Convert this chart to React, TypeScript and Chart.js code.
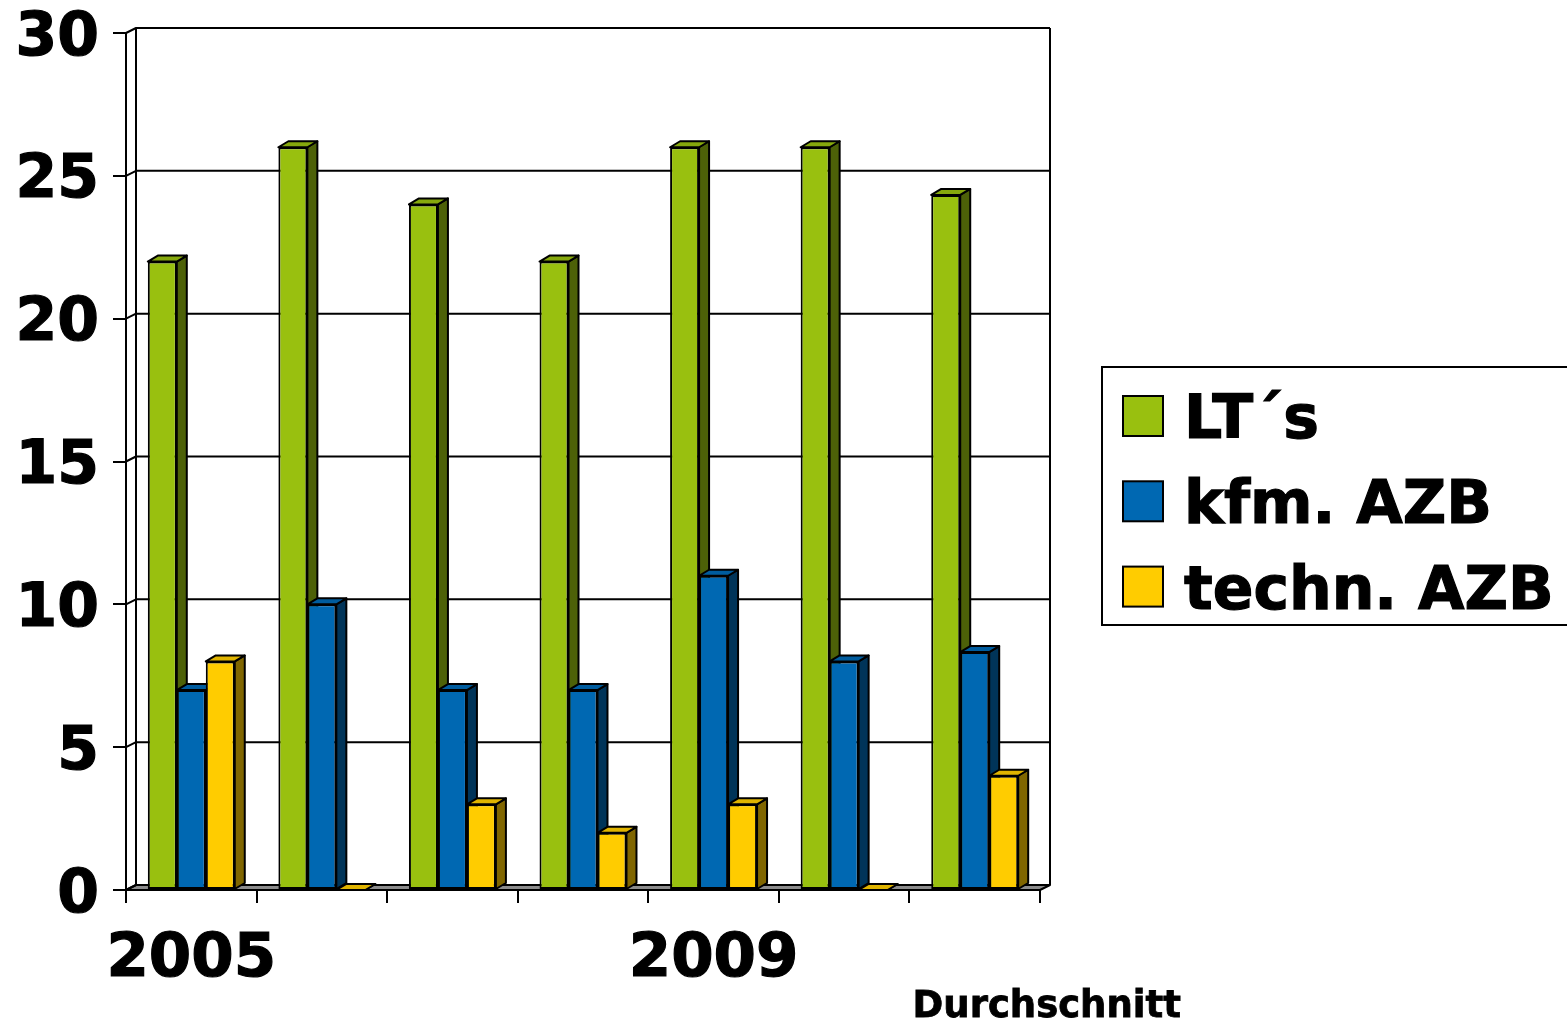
import React, { useEffect, useRef } from "react";
import { Chart, registerables } from "chart.js";

Chart.register(...registerables);

const categories = ["2005", "2006", "2007", "2008", "2009", "2010", "Durchschnitt"];
const visibleXLabels = ["2005", "2009"];
const seriesNames = ["LT´s", "kfm. AZB", "techn. AZB"];
const ltValues = [22, 26, 24, 22, 26, 26, 24.33];
const kfmValues = [7, 10, 7, 7, 11, 8, 8.33];
const technValues = [8, 0, 3, 2, 3, 0, 4];
const yMin = 0;
const yMax = 30;
const yStep = 5;

const FRONT = ["#99C00F", "#0068B2", "#FFCC00"];
const TOP = ["#86A80D", "#005C9E", "#E0B400"];
const SIDE = ["#4D6108", "#003459", "#806600"];

const DX = 10;
const DY = -6;
const WDX = 10;
const WDY = -5;
const FONT = '"DejaVu Sans", Verdana, sans-serif';

function drawFaces(chart: any, i: number) {
  const { ctx } = chart;
  const meta = chart.getDatasetMeta(i);
  ctx.save();
  ctx.lineWidth = 2;
  ctx.strokeStyle = "#000";
  ctx.lineJoin = "round";
  meta.data.forEach((bar: any) => {
    const { x, y, base, width } = bar.getProps(["x", "y", "base", "width"], true);
    const l = x - width / 2;
    const r = x + width / 2;
    ctx.beginPath();
    ctx.moveTo(r, y);
    ctx.lineTo(r + DX, y + DY);
    ctx.lineTo(r + DX, base + DY);
    ctx.lineTo(r, base);
    ctx.closePath();
    ctx.fillStyle = SIDE[i];
    ctx.fill();
    ctx.stroke();
    ctx.beginPath();
    ctx.moveTo(l, y);
    ctx.lineTo(l + DX, y + DY);
    ctx.lineTo(r + DX, y + DY);
    ctx.lineTo(r, y);
    ctx.closePath();
    ctx.fillStyle = TOP[i];
    ctx.fill();
    ctx.stroke();
  });
  ctx.restore();
}

const threeD = {
  id: "threeD",
  beforeDatasetsDraw(chart: any) {
    const { ctx, chartArea } = chart;
    const ys = chart.scales.y;
    const { left, right, top, bottom } = chartArea;
    ctx.save();
    ctx.lineWidth = 2;
    ctx.strokeStyle = "#000";
    ctx.lineJoin = "round";
    ctx.beginPath();
    ctx.moveTo(left, bottom);
    ctx.lineTo(left + WDX, bottom + WDY);
    ctx.lineTo(right + WDX, bottom + WDY);
    ctx.lineTo(right, bottom);
    ctx.closePath();
    ctx.fillStyle = "#8C8C8C";
    ctx.fill();
    ctx.stroke();
    for (let v = yMin; v <= yMax; v += yStep) {
      const y = ys.getPixelForValue(v);
      ctx.beginPath();
      ctx.moveTo(left, y);
      ctx.lineTo(left + WDX, y + WDY);
      ctx.lineTo(right + WDX, y + WDY);
      ctx.stroke();
    }
    ctx.beginPath();
    ctx.moveTo(left + WDX, top + WDY);
    ctx.lineTo(left + WDX, bottom + WDY);
    ctx.moveTo(right + WDX, top + WDY);
    ctx.lineTo(right + WDX, bottom + WDY);
    ctx.stroke();
    ctx.restore();
  },
  beforeDatasetDraw() {
    return false;
  },
  afterDatasetsDraw(chart: any) {
    const n = chart.data.datasets.length;
    for (let i = 0; i < n; i++) {
      const meta = chart.getDatasetMeta(i);
      meta.controller.draw();
      drawFaces(chart, i);
    }
  },
  afterDraw(chart: any) {
    const { ctx } = chart;
    const xs = chart.scales.x;
    ctx.save();
    const last = categories.length - 1;
    ctx.font = `bold 37px ${FONT}`;
    ctx.fillStyle = "#000";
    ctx.strokeStyle = "#000";
    ctx.lineWidth = 0.8;
    ctx.textAlign = "center";
    ctx.textBaseline = "alphabetic";
    ctx.strokeText(categories[last], xs.getPixelForValue(last) + 72, 1017);
    ctx.fillText(categories[last], xs.getPixelForValue(last) + 72, 1017);
    ctx.lineWidth = 2;
    ctx.fillStyle = "#fff";
    ctx.fillRect(1102, 367, 480, 258);
    ctx.strokeRect(1102, 367, 480, 258);
    ctx.font = `bold 60px ${FONT}`;
    ctx.textAlign = "left";
    chart.data.datasets.forEach((ds: any, k: number) => {
      const sy = 396 + k * 85.3;
      ctx.lineWidth = 2;
      ctx.fillStyle = FRONT[k];
      ctx.fillRect(1123, sy, 40, 40);
      ctx.strokeRect(1123, sy, 40, 40);
      ctx.fillStyle = "#000";
      ctx.lineWidth = 1.2;
      ctx.strokeText(ds.label, 1184, sy + 42);
      ctx.fillText(ds.label, 1184, sy + 42);
    });
    ctx.restore();
  },
};

export default function App() {
  const ref = useRef<HTMLCanvasElement>(null);
  useEffect(() => {
    if (!ref.current) return;
    const values = [ltValues, kfmValues, technValues];
    const chart = new Chart(ref.current, {
      type: "bar",
      data: {
        labels: categories,
        datasets: values.map((vals, k) => ({
          label: seriesNames[k],
          data: vals,
          backgroundColor: FRONT[k],
          borderColor: "#000",
          borderWidth: 2,
          borderSkipped: false,
          categoryPercentage: 0.666,
          barPercentage: 1,
        })),
      },
      options: {
        responsive: false,
        animation: false,
        events: [],
        layout: { padding: { top: 33, right: 527, left: 0, bottom: 0 } },
        plugins: { legend: { display: false }, tooltip: { enabled: false } },
        scales: {
          x: {
            grid: {
              offset: true,
              drawOnChartArea: false,
              drawTicks: true,
              tickLength: 13,
              color: "#000",
              lineWidth: 2,
            },
            border: { display: true, color: "#000", width: 2 },
            ticks: {
              autoSkip: false,
              maxRotation: 0,
              minRotation: 0,
              padding: 21,
              color: "#000",
              textStrokeColor: "#000",
              textStrokeWidth: 1.2,
              font: { family: FONT, size: 61, weight: "bold" },
              callback: (_v: any, idx: number) =>
                visibleXLabels.includes(categories[idx]) ? categories[idx] : "",
            },
            afterFit: (s: any) => {
              s.height = 131;
              s.paddingLeft = 0;
              s.paddingRight = 0;
            },
          },
          y: {
            min: yMin,
            max: yMax,
            grid: {
              drawOnChartArea: false,
              drawTicks: true,
              tickLength: 13,
              color: "#000",
              lineWidth: 2,
            },
            border: { display: true, color: "#000", width: 2 },
            ticks: {
              stepSize: yStep,
              padding: 14,
              labelOffset: 6,
              color: "#000",
              textStrokeColor: "#000",
              textStrokeWidth: 1.2,
              font: { family: FONT, size: 60, weight: "bold" },
            },
            afterFit: (s: any) => {
              s.width = 126;
              s.paddingTop = 0;
              s.paddingBottom = 0;
            },
          },
        },
      },
      plugins: [threeD],
    });
    return () => chart.destroy();
  }, []);
  return (
    <div style={{ position: "fixed", left: 0, top: 0, width: 1567, height: 1021, background: "#fff" }}>
      <canvas ref={ref} width={1567} height={1021} style={{ display: "block" }} />
    </div>
  );
}
